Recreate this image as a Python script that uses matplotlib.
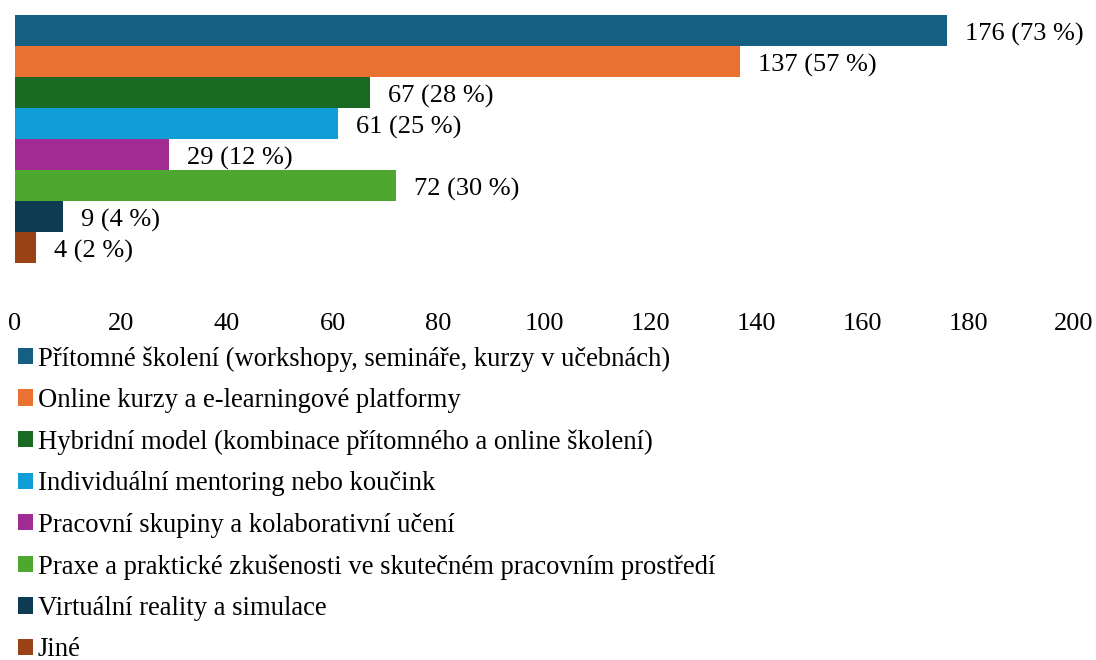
import matplotlib
matplotlib.use("Agg")
import matplotlib.pyplot as plt
from matplotlib.patches import Patch

plt.rcParams['font.family'] = ['Liberation Serif', 'DejaVu Serif']

categories = [
    "Přítomné školení (workshopy, semináře, kurzy v učebnách)",
    "Online kurzy a e-learningové platformy",
    "Hybridní model (kombinace přítomného a online školení)",
    "Individuální mentoring nebo koučink",
    "Pracovní skupiny a kolaborativní učení",
    "Praxe a praktické zkušenosti ve skutečném pracovním prostředí",
    "Virtuální reality a simulace",
    "Jiné",
]
counts = [176, 137, 67, 61, 29, 72, 9, 4]
percents = [73, 57, 28, 25, 12, 30, 4, 2]
colors = ["#156082", "#E97132", "#196B24", "#0F9ED5",
          "#A02B93", "#4EA72E", "#0E3A52", "#984215"]
xticks = [0, 20, 40, 60, 80, 100, 120, 140, 160, 180, 200]

W, H = 1096, 660
fig = plt.figure(figsize=(W / 100, H / 100), dpi=100)

# axes placed in pixel terms
left, right, top, bottom = 15, 1074, 15, 300
ax = fig.add_axes([left / W, 1 - bottom / H, (right - left) / W, (bottom - top) / H])

bar_px = 31
n_units = (bottom - top) / bar_px
for i, (v, c) in enumerate(zip(counts, colors)):
    ax.barh(i, v, height=1, color=c, edgecolor='none')
    ax.text(v + 3.4, i + 0.12, f"{v} ({percents[i]} %)", va='center', ha='left', fontsize=19)

ax.set_xlim(0, 200)
ax.set_ylim(-0.5 + n_units, -0.5)
ax.set_xticks(xticks)
ax.set_xticklabels([str(t) for t in xticks], fontsize=19)
ax.set_yticks([])
ax.tick_params(axis='x', length=0, pad=9)
for s in ax.spines.values():
    s.set_visible(False)

handles = [Patch(facecolor=c, edgecolor='none') for c in colors]
fig.legend(handles, categories, loc='upper left',
           bbox_to_anchor=(18 / W, 1 - 346 / H), frameon=False,
           fontsize=19.2, borderpad=0, borderaxespad=0,
           handlelength=0.55, handleheight=0.55, handletextpad=0.2,
           labelspacing=0.615)

fig.savefig("out.png", dpi=100)
